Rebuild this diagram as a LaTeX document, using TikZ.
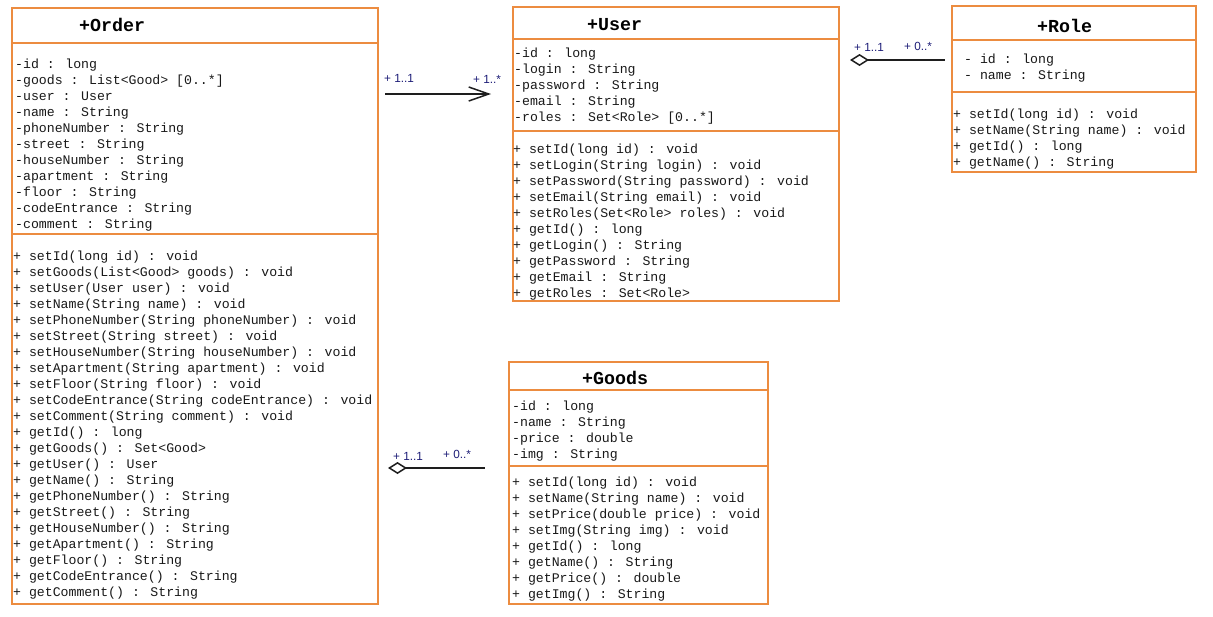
\documentclass[tikz,border=0pt]{standalone}
\usepackage{fontspec}
\newfontfamily\umlmono{Liberation Mono}
\newfontfamily\multfont{Liberation Sans}
\usetikzlibrary{arrows.meta}
\definecolor{umlorange}{RGB}{236,140,64}
\definecolor{multblue}{RGB}{30,30,120}
\definecolor{linkgray}{RGB}{30,30,30}
\tikzset{
  compart/.style={draw=umlorange, line width=1.5pt, anchor=north west, inner sep=0pt, outer sep=0pt},
  member/.style={font=\umlmono\fontsize{13.2}{16}\selectfont, text=black!90, align=left, inner sep=0pt, anchor=north west},
  classname/.style={font=\umlmono\bfseries\fontsize{18.3}{20}\selectfont, inner sep=0pt, anchor=base west},
  mult/.style={font=\multfont\fontsize{11.8}{13}\selectfont, text=multblue, inner sep=0pt, anchor=base west},
  link/.style={draw=linkgray, line width=1.5pt},
}
\begin{document}
\begin{tikzpicture}[x=1pt,y=-1pt]
\fill[white] (0,0) rectangle (1213,616);
\useasboundingbox (0,0) rectangle (1213,616);

% ---------- Order ----------
\node[compart, minimum width=366pt, minimum height=35pt]  (orderT) at (12,8) {};
\node[compart, minimum width=366pt, minimum height=191pt] (orderA) at (12,43) {};
\node[compart, minimum width=366pt, minimum height=370pt] (orderO) at (12,234) {};
\node[classname] (orderN) at (79,31.5) {+Order};
\node[member] (orderAt) at (15,56.8) {\strut -id : long\\
-goods : List<Good> [0..*]\\
-user : User\\
-name : String\\
-phoneNumber : String\\
-street : String\\
-houseNumber : String\\
-apartment : String\\
-floor : String\\
-codeEntrance : String\\
-comment : String};
\node[member] (orderOp) at (13,248.8) {\strut + setId(long id) : void\\
+ setGoods(List<Good> goods) : void\\
+ setUser(User user) : void\\
+ setName(String name) : void\\
+ setPhoneNumber(String phoneNumber) : void\\
+ setStreet(String street) : void\\
+ setHouseNumber(String houseNumber) : void\\
+ setApartment(String apartment) : void\\
+ setFloor(String floor) : void\\
+ setCodeEntrance(String codeEntrance) : void\\
+ setComment(String comment) : void\\
+ getId() : long\\
+ getGoods() : Set<Good>\\
+ getUser() : User\\
+ getName() : String\\
+ getPhoneNumber() : String\\
+ getStreet() : String\\
+ getHouseNumber() : String\\
+ getApartment() : String\\
+ getFloor() : String\\
+ getCodeEntrance() : String\\
+ getComment() : String};

% ---------- User ----------
\node[compart, minimum width=326pt, minimum height=32pt]  (userT) at (513,7) {};
\node[compart, minimum width=326pt, minimum height=92pt]  (userA) at (513,39) {};
\node[compart, minimum width=326pt, minimum height=170pt] (userO) at (513,131) {};
\node[classname] (userN) at (587,30) {+User};
\node[member] (userAt) at (514,45.8) {\strut -id : long\\
-login : String\\
-password : String\\
-email : String\\
-roles : Set<Role> [0..*]};
\node[member] (userOp) at (513,141.8) {\strut + setId(long id) : void\\
+ setLogin(String login) : void\\
+ setPassword(String password) : void\\
+ setEmail(String email) : void\\
+ setRoles(Set<Role> roles) : void\\
+ getId() : long\\
+ getLogin() : String\\
+ getPassword : String\\
+ getEmail : String\\
+ getRoles : Set<Role>};

% ---------- Role ----------
\node[compart, minimum width=244pt, minimum height=34pt] (roleT) at (952,6) {};
\node[compart, minimum width=244pt, minimum height=52pt] (roleA) at (952,40) {};
\node[compart, minimum width=244pt, minimum height=80pt] (roleO) at (952,92) {};
\node[classname] (roleN) at (1037,32) {+Role};
\node[member] (roleAt) at (964,51.8) {\strut - id : long\\
- name : String};
\node[member] (roleOp) at (953,106.8) {\strut + setId(long id) : void\\
+ setName(String name) : void\\
+ getId() : long\\
+ getName() : String};

% ---------- Goods ----------
\node[compart, minimum width=259pt, minimum height=28pt]  (goodsT) at (509,362) {};
\node[compart, minimum width=259pt, minimum height=76pt]  (goodsA) at (509,390) {};
\node[compart, minimum width=259pt, minimum height=138pt] (goodsO) at (509,466) {};
\node[classname] (goodsN) at (582,384) {+Goods};
\node[member] (goodsAt) at (512,398.8) {\strut -id : long\\
-name : String\\
-price : double\\
-img : String};
\node[member] (goodsOp) at (512,474.8) {\strut + setId(long id) : void\\
+ setName(String name) : void\\
+ setPrice(double price) : void\\
+ setImg(String img) : void\\
+ getId() : long\\
+ getName() : String\\
+ getPrice() : double\\
+ getImg() : String};

% ---------- Connectors ----------
\coordinate (ouL) at (385,94);
\coordinate (ouR) at (491,94);
\draw[link, -{Straight Barb[length=20pt,width=14pt]}] (ouL) -- (ouR);
\node[mult] (ouM1) at (384,82) {+ 1..1};
\node[mult] (ouM2) at (473,83) {+ 1..*};

\coordinate (urL) at (850,60);
\coordinate (urR) at (945,60);
\draw[link, {Diamond[open,length=19pt,width=12pt]}-] (urL) -- (urR);
\node[mult] (urM1) at (854,51.5) {+ 1..1};
\node[mult] (urM2) at (904,50) {+ 0..*};

\coordinate (ogL) at (388,468);
\coordinate (ogR) at (485,468);
\draw[link, {Diamond[open,length=19pt,width=12pt]}-] (ogL) -- (ogR);
\node[mult] (ogM1) at (393,460) {+ 1..1};
\node[mult] (ogM2) at (443,458) {+ 0..*};
\end{tikzpicture}
\end{document}
